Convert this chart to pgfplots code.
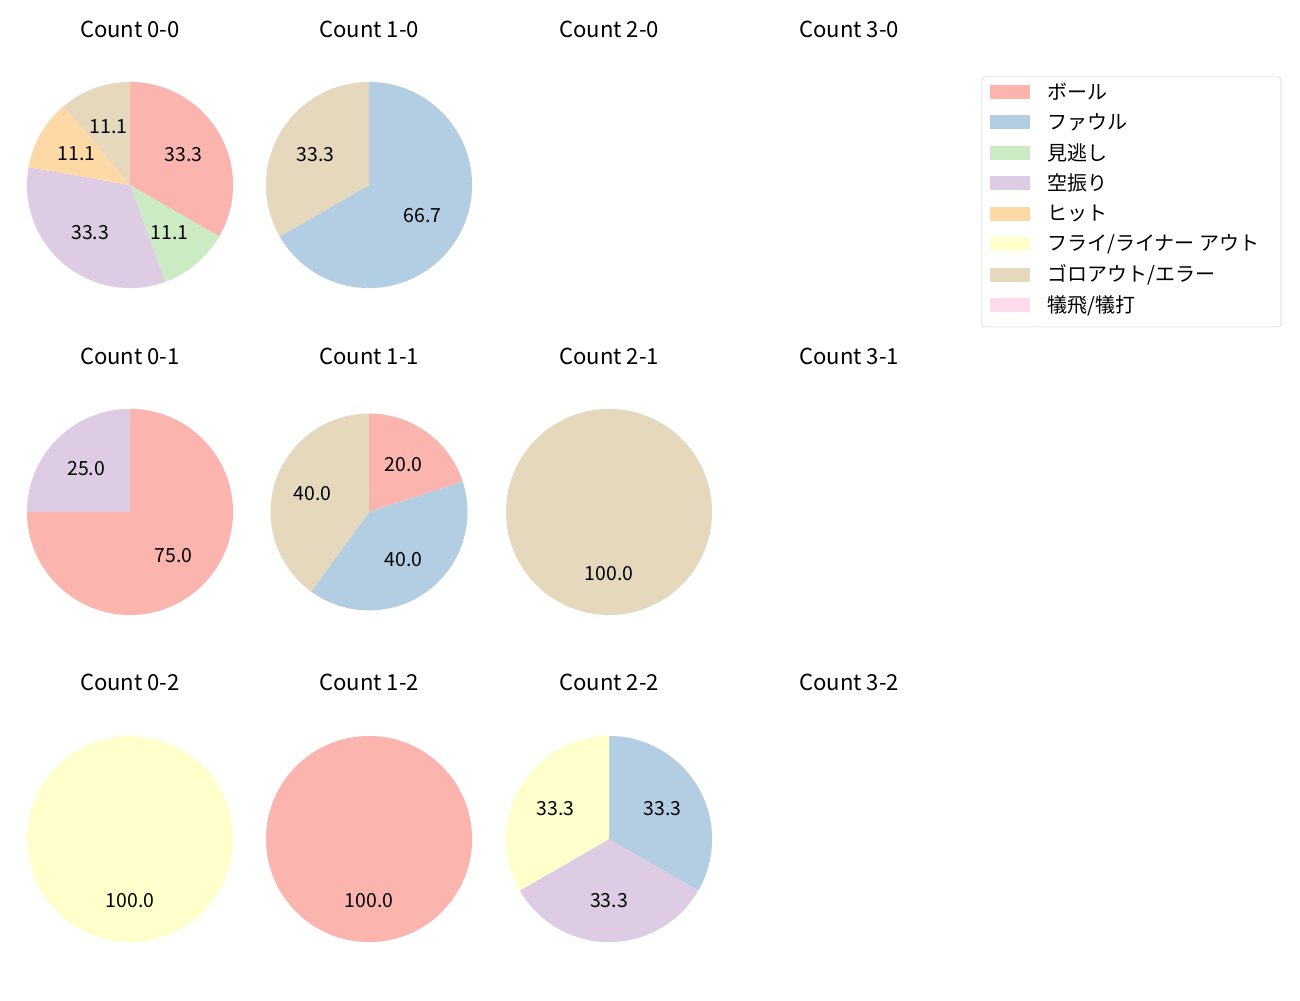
\documentclass[border=0pt]{standalone}
\usepackage{pgfplots}
\pgfplotsset{compat=1.18}
\usepackage{fontspec}
\setmainfont{Noto Sans CJK JP}
\definecolor{cBall}{HTML}{FBB4AE}
\definecolor{cFoul}{HTML}{B3CDE3}
\definecolor{cMinu}{HTML}{CCEBC5}
\definecolor{cKara}{HTML}{DECBE4}
\definecolor{cHit}{HTML}{FED9A6}
\definecolor{cFly}{HTML}{FFFFCC}
\definecolor{cGoro}{HTML}{E5D8BD}
\definecolor{cGi}{HTML}{FDDAEC}
\newcommand{\pwedge}[3]{% start, value, colour
  \fill[#3] (axis cs:0,0) -- (axis cs:{cos(90-3.6*(#1))},{sin(90-3.6*(#1))})
    arc[start angle={90-3.6*(#1)}, end angle={90-3.6*(#1+#2)}, radius=\R] -- cycle;}
\newcommand{\plabel}[3]{% start, value, text
  \node[font=\fontsize{14}{16}\selectfont] at (axis cs:{0.6*cos(90-3.6*(#1+#2/2))},{0.6*sin(90-3.6*(#1+#2/2))}) {#3};}
\pgfplotsset{pie/.style={hide axis, scale only axis, clip=false, anchor=center,
  width=2*\R, height=2*\R, xmin=-1, xmax=1, ymin=-1, ymax=1}}
\begin{document}
\begin{tikzpicture}
\useasboundingbox (0,0) rectangle (936pt,-720pt);
\tikzset{ttl/.style={font=\fontsize{15.9}{18}\selectfont, anchor=center}}
% titles
\node[ttl] at (93.6pt,-20.9pt) {Count 0-0};
\node[ttl] at (265.7pt,-20.9pt) {Count 1-0};
\node[ttl] at (438.5pt,-20.9pt) {Count 2-0};
\node[ttl] at (611.3pt,-20.9pt) {Count 3-0};
\node[ttl] at (93.6pt,-256.3pt) {Count 0-1};
\node[ttl] at (265.7pt,-256.3pt) {Count 1-1};
\node[ttl] at (438.5pt,-256.3pt) {Count 2-1};
\node[ttl] at (611.3pt,-256.3pt) {Count 3-1};
\node[ttl] at (93.6pt,-491.0pt) {Count 0-2};
\node[ttl] at (265.7pt,-491.0pt) {Count 1-2};
\node[ttl] at (438.5pt,-491.0pt) {Count 2-2};
\node[ttl] at (611.3pt,-491.0pt) {Count 3-2};
% Count 0-0
\def\R{74.2pt}
\begin{axis}[pie, at={(93.6pt,-133.2pt)}]
\pwedge{0}{33.333}{cBall}
\pwedge{33.333}{11.111}{cMinu}
\pwedge{44.444}{33.333}{cKara}
\pwedge{77.778}{11.111}{cHit}
\pwedge{88.889}{11.111}{cGoro}
\plabel{0}{33.333}{33.3}
\plabel{33.333}{11.111}{11.1}
\plabel{44.444}{33.333}{33.3}
\plabel{77.778}{11.111}{11.1}
\plabel{88.889}{11.111}{11.1}
\end{axis}
% Count 1-0
\begin{axis}[pie, at={(265.7pt,-133.2pt)}]
\pwedge{0}{66.667}{cFoul}
\pwedge{66.667}{33.333}{cGoro}
\plabel{0}{66.667}{66.7}
\plabel{66.667}{33.333}{33.3}
\end{axis}
% Count 0-1
\begin{axis}[pie, at={(93.6pt,-368.6pt)}]
\pwedge{0}{75}{cBall}
\pwedge{75}{25}{cKara}
\plabel{0}{75}{75.0}
\plabel{75}{25}{25.0}
\end{axis}
% Count 1-1
\def\R{70.9pt}
\begin{axis}[pie, at={(265.7pt,-368.6pt)}]
\pwedge{0}{20}{cBall}
\pwedge{20}{40}{cFoul}
\pwedge{60}{40}{cGoro}
\plabel{0}{20}{20.0}
\plabel{20}{40}{40.0}
\plabel{60}{40}{40.0}
\end{axis}
\def\R{74.2pt}
% Count 2-1
\begin{axis}[pie, at={(438.5pt,-368.6pt)}]
\pwedge{0}{100}{cGoro}
\plabel{0}{100}{100.0}
\end{axis}
% Count 0-2
\begin{axis}[pie, at={(93.6pt,-604.1pt)}]
\pwedge{0}{100}{cFly}
\plabel{0}{100}{100.0}
\end{axis}
% Count 1-2
\begin{axis}[pie, at={(265.7pt,-604.1pt)}]
\pwedge{0}{100}{cBall}
\plabel{0}{100}{100.0}
\end{axis}
% Count 2-2
\begin{axis}[pie, at={(438.5pt,-604.1pt)}]
\pwedge{0}{33.333}{cFoul}
\pwedge{33.333}{33.333}{cKara}
\pwedge{66.667}{33.333}{cFly}
\plabel{0}{33.333}{33.3}
\plabel{33.333}{33.333}{33.3}
\plabel{66.667}{33.333}{33.3}
\end{axis}
% legend
\draw[black!18, rounded corners=2pt, fill=white] (707pt,-55.4pt) rectangle (922.3pt,-235.4pt);
\foreach \c/\t [count=\i from 0] in {cBall/{ボール}, cFoul/{ファウル}, cMinu/{見逃し}, cKara/{空振り}, cHit/{ヒット}, cFly/{フライ/ライナー アウト}, cGoro/{ゴロアウト/エラー}, cGi/{犠飛/犠打}}{
  \pgfmathsetmacro{\yy}{-66.2-21.95*\i}
  \fill[\c] (713pt,\yy pt-5pt) rectangle (741.8pt,\yy pt+5pt);
  \node[anchor=west, font=\fontsize{14.4}{16}\selectfont, inner sep=0pt] at (754pt,\yy pt) {\t};
}
\end{tikzpicture}
\end{document}
